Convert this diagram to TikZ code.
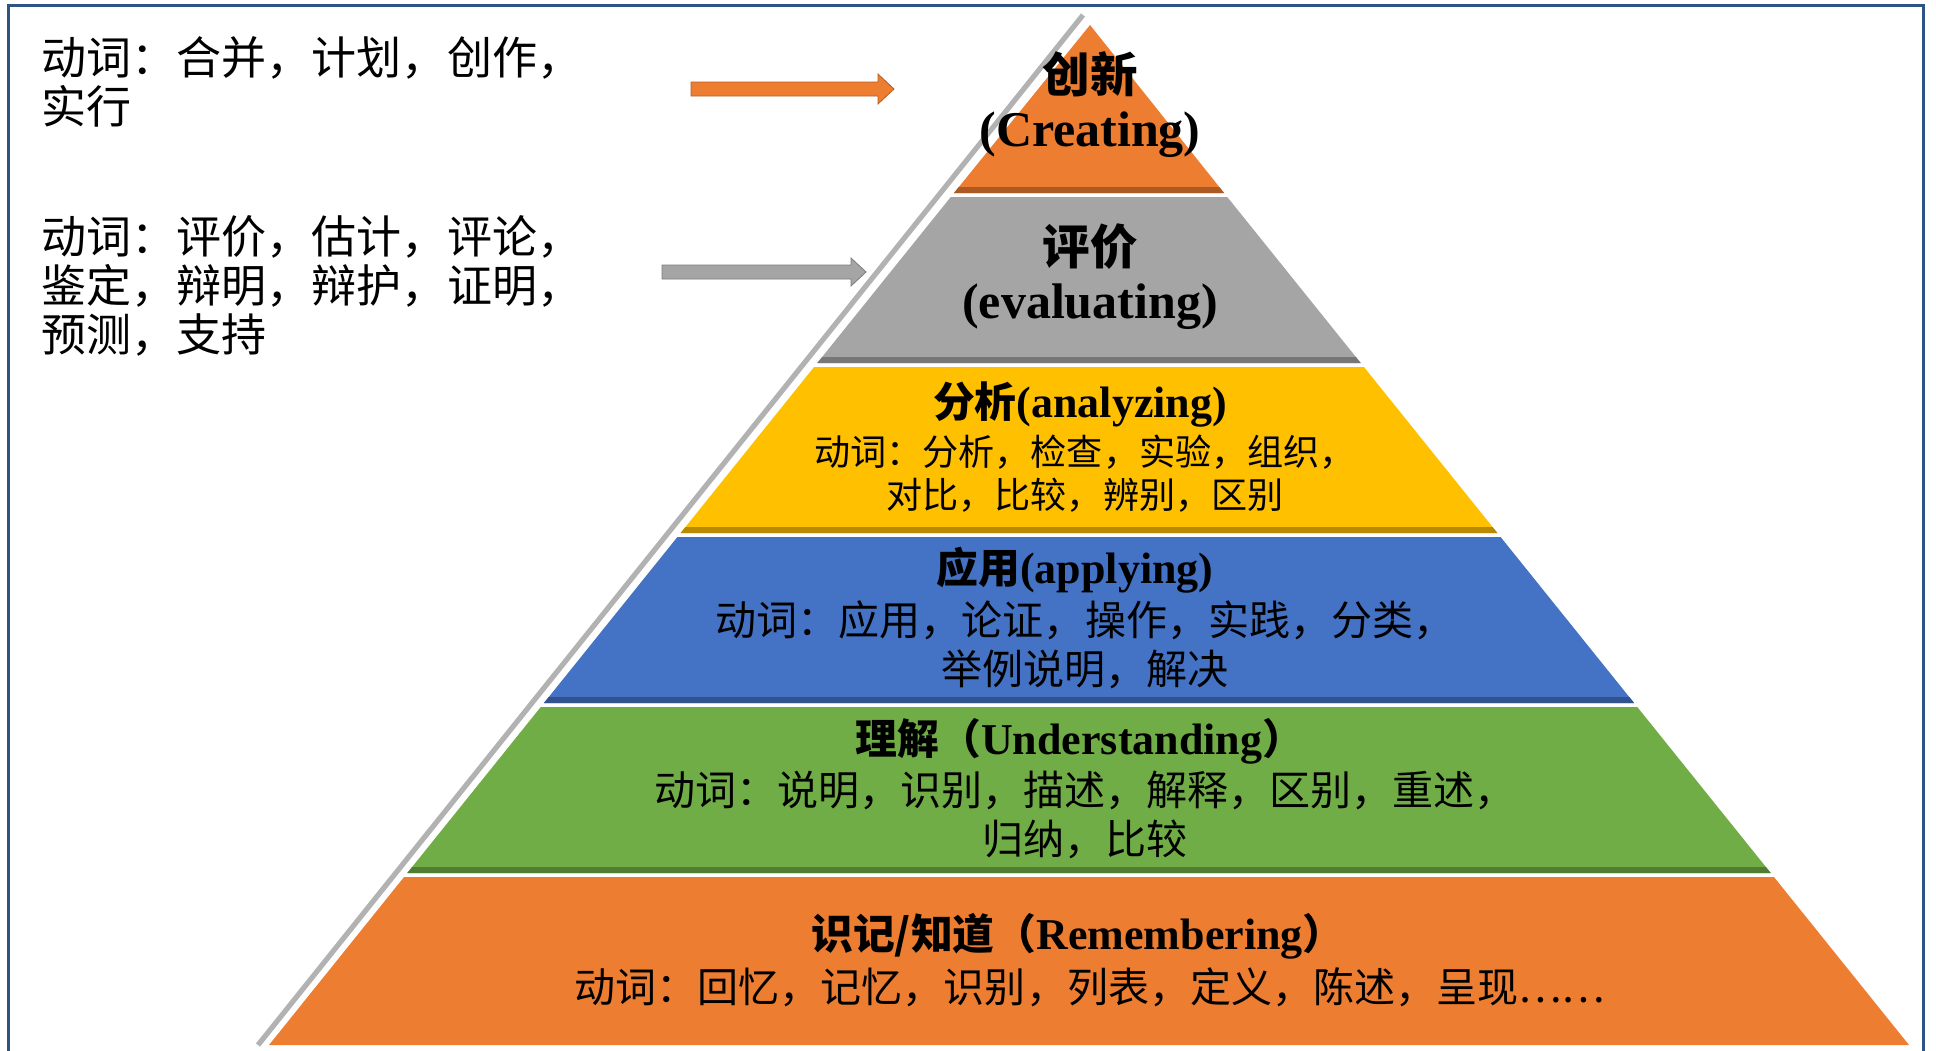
\documentclass[tikz,border=0pt]{standalone}
\usepackage{fontspec}
\setmainfont{Liberation Serif}
\newfontfamily\cjk[Scale=0.95]{Noto Sans CJK SC}

\definecolor{bandOrange}{RGB}{237,125,49}
\definecolor{bandGray}{RGB}{165,165,165}
\definecolor{bandYellow}{RGB}{255,192,0}
\definecolor{bandBlue}{RGB}{68,114,196}
\definecolor{bandGreen}{RGB}{112,173,71}
\definecolor{frameBlue}{RGB}{46,84,132}
\definecolor{edgeShadow}{RGB}{178,178,178}

\tikzset{every picture/.style={line width=0.75pt}}
\tikzset{
	band/.style={fill=#1, draw=none},
	band shade/.style={fill=#1!72!black, draw=none},
	block arrow/.style={fill=#1, draw=#1!75!black, line width=0.4pt},
	top title/.style={font=\fontsize{25}{27}\selectfont\bfseries, align=center, inner sep=0pt},
	level title/.style={font=\fontsize{22}{26}\selectfont\bfseries, align=center, inner sep=0pt},
	verb text/.style={font=\cjk\fontsize{21.6}{24.5}\selectfont, align=center, inner sep=0pt},
	side text/.style={font=\cjk\fontsize{23.7}{24.5}\selectfont, align=left, anchor=west, inner sep=0pt}
}

\begin{document}
\begin{tikzpicture}[x=0.5pt,y=0.5pt,yscale=-1,xscale=1]
	\useasboundingbox (0,0) rectangle (1936,1050);

	%Shape: Frame
	\draw [frameBlue, line width=1.5pt] (8,1060) -- (8,5) -- (1923,5) -- (1923,1060) ;

	%Shape: Edge shadow
	\draw [edgeShadow, line width=2.6pt] (1083,15) -- (258,1045) ;

	%Shape: Triangle [Creating]
	\fill [band=bandOrange] (1090,25) -- (1224.06,193) -- (953.94,193) -- cycle ;
	\fill [band shade=bandOrange] (958.76,187) -- (1219.24,187) -- (1224.06,193) -- (953.94,193) -- cycle ;
	%Shape: Trapezoid [evaluating]
	\fill [band=bandGray] (950.73,197) -- (1227.27,197) -- (1360.73,363) -- (817.27,363) -- cycle ;
	\fill [band shade=bandGray] (822.10,357) -- (1355.90,357) -- (1360.73,363) -- (817.27,363) -- cycle ;
	%Shape: Trapezoid [analyzing]
	\fill [band=bandYellow] (814.06,367) -- (1363.94,367) -- (1497.39,533) -- (680.61,533) -- cycle ;
	\fill [band shade=bandYellow] (685.43,527) -- (1492.57,527) -- (1497.39,533) -- (680.61,533) -- cycle ;
	%Shape: Trapezoid [applying]
	\fill [band=bandBlue] (677.39,537) -- (1500.61,537) -- (1634.06,703) -- (543.94,703) -- cycle ;
	\fill [band shade=bandBlue] (548.76,697) -- (1629.24,697) -- (1634.06,703) -- (543.94,703) -- cycle ;
	%Shape: Trapezoid [understanding]
	\fill [band=bandGreen] (540.73,707) -- (1637.27,707) -- (1770.73,873) -- (407.27,873) -- cycle ;
	\fill [band shade=bandGreen] (412.10,867) -- (1765.90,867) -- (1770.73,873) -- (407.27,873) -- cycle ;
	%Shape: Trapezoid [remembering]
	\fill [band=bandOrange] (404.06,877) -- (1773.94,877) -- (1909,1045) -- (269,1045) -- cycle ;

	%Right Arrow [to creating]
	\draw [block arrow=bandOrange] (691,82) -- (878,82) -- (878,74) -- (894,89) -- (878,104) -- (878,96) -- (691,96) -- cycle ;
	%Right Arrow [to evaluating]
	\draw [block arrow=bandGray] (662,265) -- (851,265) -- (851,258) -- (866,272) -- (851,286) -- (851,279) -- (662,279) -- cycle ;

	% Text Node
	\node [side text] (createVerbs) at (41,82) {动词：合并，计划，创作，\\实行};
	% Text Node
	\node [side text] (evalVerbs) at (41,286) {动词：评价，估计，评论，\\鉴定，辩明，辩护，证明，\\预测，支持};

	% Text Node
	\node [top title] (creating) at (1090,105) {{\cjk 创新}\\(Creating)};
	% Text Node
	\node [top title] (evaluating) at (1090,277) {{\cjk 评价}\\(evaluating)};
	% Text Node
	\node [level title] (analyzing) at (1080,404) {{\cjk 分析}(analyzing)};
	% Text Node
	\node [verb text, font=\cjk\fontsize{19}{21.5}\selectfont] (analyzingVerbs) at (1085,474) {动词：分析，检查，实验，组织，\\对比，比较，辨别，区别};
	% Text Node
	\node [level title] (applying) at (1075,570) {{\cjk 应用}(applying)};
	% Text Node
	\node [verb text] (applyingVerbs) at (1085,645) {动词：应用，论证，操作，实践，分类，\\举例说明，解决};
	% Text Node
	\node [level title] (understanding) at (1080,741) {{\cjk 理解（}Understanding{\cjk ）}};
	% Text Node
	\node [verb text] (understandingVerbs) at (1085,815) {动词：说明，识别，描述，解释，区别，重述，\\归纳，比较};
	% Text Node
	\node [level title] (remembering) at (1078,936) {{\cjk 识记/知道（}Remembering{\cjk ）}};
	% Text Node
	\node [verb text] (rememberingVerbs) at (1090,987) {动词：回忆，记忆，识别，列表，定义，陈述，呈现……};

\end{tikzpicture}
\end{document}
